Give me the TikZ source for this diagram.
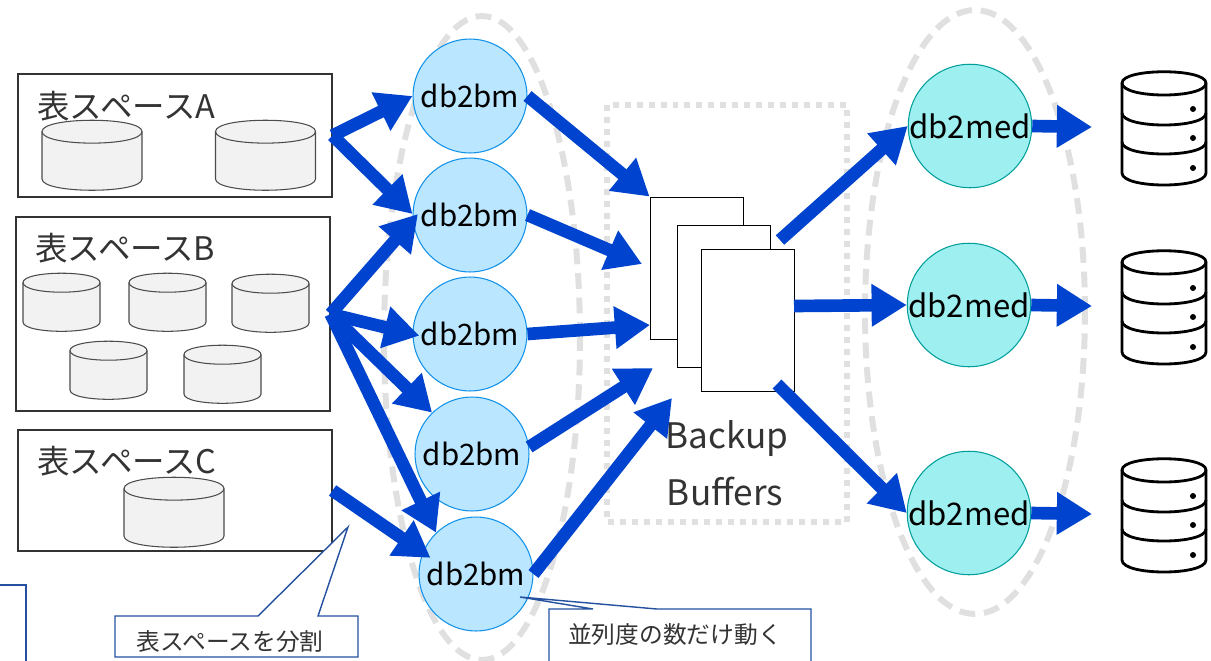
\documentclass[tikz,border=0pt]{standalone}
\usepackage{fontspec}
\setmainfont{Noto Sans CJK JP}
\usetikzlibrary{arrows.meta, shapes.geometric}

\definecolor{flowblue}{HTML}{0043CE}
\definecolor{ringgray}{HTML}{E0E0E0}
\definecolor{calloutblue}{HTML}{2450A0}
\definecolor{textgray}{HTML}{333333}
\definecolor{bmfill}{HTML}{BAE6FF}
\definecolor{bmline}{HTML}{1192E8}
\definecolor{medfill}{HTML}{9EF0F0}
\definecolor{medline}{HTML}{009D9A}

\tikzset{
    spacebox/.style = {draw = black!80, fill = white, line width = 0.7pt, minimum width = 6.28cm},
    pagebox/.style = {draw = black, fill = white, line width = 0.5pt, minimum width = 1.86cm, minimum height = 2.84cm},
    bmnode/.style = {circle, draw = bmline, fill = bmfill, line width = 0.6pt, minimum size = 2.28cm, inner sep = 0pt, font = \fontsize{16.8}{20}\selectfont},
    mednode/.style = {circle, draw = medline, fill = medfill, line width = 0.6pt, minimum size = 2.42cm, inner sep = 0pt, font = \fontsize{17.7}{20}\selectfont},
    ring/.style = {ellipse, draw = ringgray, line width = 3.4pt, dash pattern = on 9pt off 5pt},
    flow/.style = {->, draw = flowblue, line width = 7.2pt},
    spacelabel/.style = {text = textgray, inner sep = 0pt, font = \fontsize{18.5}{20}\selectfont},
    notelabel/.style = {text = textgray, inner sep = 0pt, font = \fontsize{13.5}{16}\selectfont},
    bufferlabel/.style = {text = textgray, inner sep = 0pt, font = \fontsize{20}{22}\selectfont},
    callout/.style = {draw = calloutblue, fill = white, line width = 0.8pt},
    tablecyl/.pic = {
        \draw[draw = black!70, fill = black!5, line width = 0.6pt]
            (-50, 11.5) .. controls (-50, -3.5) and (50, -3.5) .. (50, 11.5)
            -- (50, 59) .. controls (50, 74) and (-50, 74) .. (-50, 59) -- cycle;
        \draw[draw = black!70, line width = 0.6pt]
            (-50, 11.5) .. controls (-50, 27) and (50, 27) .. (50, 11.5);
    },
    serverstack/.pic = {
        \draw[line width = 1.6pt, line join = round, fill = white]
            (-42, 11) .. controls (-42, -4) and (42, -4) .. (42, 11)
            -- (42, 101) .. controls (42, 117) and (-42, 117) .. (-42, 101) -- cycle;
        \draw[line width = 1.6pt] (-42, 11) .. controls (-42, 27) and (42, 27) .. (42, 11);
        \draw[line width = 1.6pt] (-42, 41) .. controls (-42, 57) and (42, 57) .. (42, 41);
        \draw[line width = 1.6pt] (-42, 70) .. controls (-42, 86) and (42, 86) .. (42, 70);
        \fill (29, 37) circle (3);
        \fill (29, 66) circle (3);
        \fill (29, 96) circle (3);
    }
}

\begin{document}
\begin{tikzpicture}[x = 0.02cm, y = -0.02cm, > = {Triangle[length = 20pt, width = 23pt]}]

    \clip (0, 0) rectangle (1211, 660);

    % Table space boxes.
    \node[spacebox, minimum height = 2.46cm] (spaceA) at (175, 135.5) {};
    \node[spacebox, minimum height = 3.88cm] (spaceB) at (173, 314) {};
    \node[spacebox, minimum height = 2.42cm] (spaceC) at (175, 490.5) {};
    \node[spacelabel, anchor = west] (labelA) at (37, 106) {表スペースA};
    \node[spacelabel, anchor = west] (labelB) at (35, 248) {表スペースB};
    \node[spacelabel, anchor = west] (labelC) at (37, 461) {表スペースC};

    % Disks inside the boxes.
    \pic at (92, 120) {tablecyl};
    \pic at (265.5, 120) {tablecyl};
    \pic[xscale = 0.77, yscale = 0.83] at (61.5, 273) {tablecyl};
    \pic[xscale = 0.77, yscale = 0.83] at (167.5, 273) {tablecyl};
    \pic[xscale = 0.77, yscale = 0.83] at (270.5, 274) {tablecyl};
    \pic[xscale = 0.77, yscale = 0.83] at (108.5, 341) {tablecyl};
    \pic[xscale = 0.77, yscale = 0.83] at (222.5, 345) {tablecyl};
    \pic at (174, 477) {tablecyl};

    % Rings around the processes and the buffer area.
    \node[ring, minimum width = 3.92cm, minimum height = 12.88cm] (bmring) at (482, 338) {};
    \node[ring, minimum width = 4.4cm, minimum height = 12.08cm] (medring) at (975, 312) {};
    \draw[draw = ringgray, line width = 3.4pt, dash pattern = on 3.4pt off 3.4pt] (607, 105) rectangle (847, 522);

    % Buffer pages.
    \node[pagebox] (page1) at (696.5, 268) {};
    \node[pagebox] (page2) at (723.5, 296) {};
    \node[pagebox] (page3) at (747.5, 320.5) {};
    \node[bufferlabel] (backup) at (727, 439) {Backup};
    \node[bufferlabel] (buffers) at (725, 492) {Buffers};

    % Backup processes.
    \node[bmnode] (bm1) at (470, 96) {db2bm};
    \node[bmnode] (bm2) at (470, 215) {db2bm};
    \node[bmnode] (bm3) at (470, 334) {db2bm};
    \node[bmnode] (bm4) at (472, 454) {db2bm};
    \node[bmnode] (bm5) at (476, 574) {db2bm};
    \node[mednode] (med1) at (970, 126) {db2med};
    \node[mednode] (med2) at (969, 305) {db2med};
    \node[mednode] (med3) at (969, 513) {db2med};

    % Storage icons.
    \pic at (1164, 72) {serverstack};
    \pic at (1164, 251) {serverstack};
    \pic at (1164, 459) {serverstack};

    % Free ends of the arrows.
    \coordinate (bufin2) at (642, 264);
    \coordinate (bufin3) at (650, 325);
    \coordinate (bufin4) at (653, 368);
    \coordinate (bufin5) at (672, 398);
    \coordinate (bufout1) at (780, 240);
    \coordinate (bufout2) at (794, 306);
    \coordinate (bufout3) at (777, 384);
    \coordinate (store1) at (1092, 127);
    \coordinate (store2) at (1092, 306);
    \coordinate (store3) at (1092, 514);

    % Table spaces to db2bm.
    \draw[flow] (spaceA.east) to (bm1.west);
    \draw[flow] (spaceA.east) to (bm2.179);
    \draw[flow, shorten > = -4.5pt] (spaceB.east) to (bm2.185);
    \draw[flow, shorten > = -4pt] (spaceB.east) to (bm3.west);
    \draw[flow] (spaceB.east) to (bm4.134);
    \draw[flow] (spaceB.east) to (bm5.134);
    \draw[flow, shorten > = -5.4pt] (spaceC.east) to (bm5.158);

    % db2bm to the buffers.
    \draw[flow] (bm1.east) to (page1.north west);
    \draw[flow] (bm2.east) to (bufin2);
    \draw[flow] (bm3.east) to (bufin3);
    \draw[flow] (bm4.7) to (bufin4);
    \draw[flow] (bm5.east) to (bufin5);

    % Buffers to db2med, then to the storage.
    \draw[flow] (bufout1) to (med1.west);
    \draw[flow] (bufout2) to (med2.west);
    \draw[flow] (bufout3) to (med3.west);
    \draw[flow] (med1.east) to (store1);
    \draw[flow] (med2.east) to (store2);
    \draw[flow] (med3.east) to (store3);

    % Callouts.
    \draw[callout] (-5, 585) -- (26, 585) -- (26, 665) -- (-5, 665);
    \draw[callout] (115, 616) -- (258, 616) -- (348, 527) -- (318, 616) -- (358, 616) -- (358, 657) -- (115, 657) -- cycle;
    \draw[callout] (549, 609) -- (593, 609) -- (520, 597) -- (657, 609) -- (811, 609) -- (811, 665) -- (549, 665) -- cycle;
    \node[notelabel] (note1) at (230, 642) {表スペースを分割};
    \node[notelabel] (note2) at (675, 635) {並列度の数だけ動く};

\end{tikzpicture}
\end{document}
